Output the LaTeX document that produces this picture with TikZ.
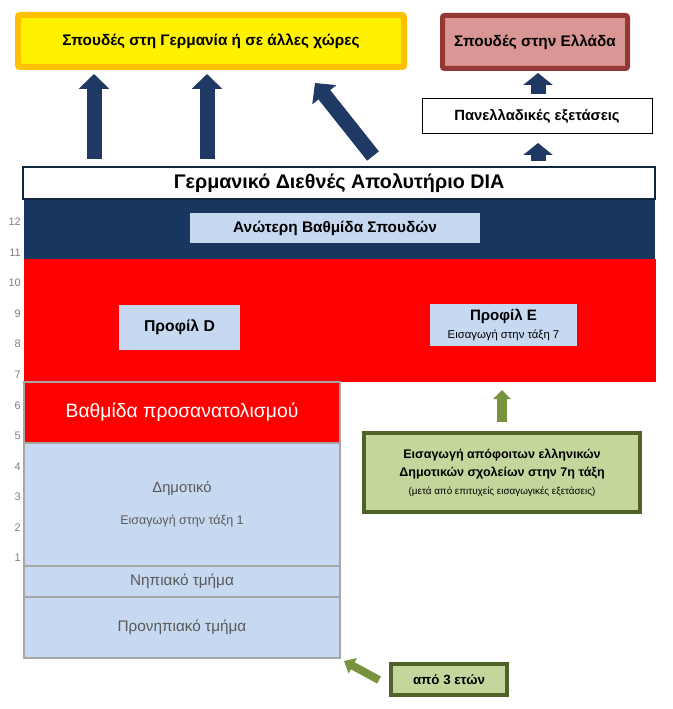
\documentclass[tikz,border=0pt]{standalone}
\usepackage{fontspec}
\setmainfont{Liberation Sans}
\usetikzlibrary{arrows.meta,calc}
\definecolor{navy}{HTML}{17375E}
\definecolor{navyarr}{HTML}{1F3864}
\definecolor{diaborder}{HTML}{0F243E}
\definecolor{lightblue}{HTML}{C6D9F1}
\definecolor{orangeb}{HTML}{FFC000}
\definecolor{greecefill}{HTML}{D99694}
\definecolor{greeceborder}{HTML}{953735}
\definecolor{greenfill}{HTML}{C3D69B}
\definecolor{greenborder}{HTML}{4F6228}
\definecolor{greenarr}{HTML}{77933C}
\definecolor{colgray}{HTML}{A6A6A6}
\definecolor{txtgray}{HTML}{595959}
\definecolor{numgray}{HTML}{7F7F7F}
\newcommand\fsz[1]{\fontsize{#1}{#1}\selectfont}
\begin{document}
\begin{tikzpicture}[x=0.75pt,y=-0.75pt,
  box/.style 2 args={minimum width=#1*0.75pt, minimum height=#2*0.75pt, inner sep=0pt, outer sep=0pt, align=center},
  colbox/.style={draw=colgray, line width=1.9pt, fill=lightblue, text=txtgray},
  greenbox/.style={draw=greenborder, line width=3pt, fill=greenfill},
  bigarrow/.style={navyarr, line width=11.25pt, -{Triangle[width=22.5pt,length=11.25pt]}},
  smallarrow/.style={navyarr, line width=11.25pt, -{Triangle[width=21.75pt,length=9pt]}},
  greenup/.style={greenarr, line width=7.5pt, -{Triangle[width=12.75pt,length=6.75pt]}},
  greendiag/.style={greenarr, line width=6pt, -{Triangle[width=12.75pt,length=7.5pt]}},
  num/.style={anchor=east, inner sep=0pt, text=numgray, font=\fsz{8.2}}
]
\useasboundingbox (0,0) rectangle (673,709);

% top boxes
\node[box={386}{52}, draw=orangeb, line width=4.5pt, fill=yellow, rounded corners=1.5pt, font=\bfseries\fsz{11.5}] (yel) at (211,41) {Σπουδές στη Γερμανία ή σε άλλες χώρες};
\node[box={185}{53}, draw=greeceborder, line width=3.75pt, fill=greecefill, rounded corners=1.5pt, font=\bfseries\fsz{11.5}] (gr) at (535,42) {Σπουδές στην Ελλάδα};
\node[box={230}{35}, draw=black, line width=0.75pt, fill=white, font=\bfseries\fsz{11.1}] (pan) at (537,116.5) {Πανελλαδικές εξετάσεις};

% DIA and bands
\node[box={631}{60}, fill=navy] (navyband) at (339.5,229) {};
\node[box={632}{123}, fill=red] (redband) at (340,320.5) {};
\node[box={632}{32}, draw=diaborder, line width=1.9pt, fill=white, font=\bfseries\fsz{14.8}] (dia) at (339,183) {Γερμανικό Διεθνές Απολυτήριο DIA};
\node[box={290}{30}, fill=lightblue, font=\bfseries\fsz{11.5}] (upper) at (335,228) {Ανώτερη Βαθμίδα Σπουδών};
\node[box={121}{45}, fill=lightblue, font=\bfseries\fsz{11.8}] (profD) at (179.5,327.5) {Προφίλ D};
\node[box={147}{42}, fill=lightblue] (profE) at (503.5,325) {{\bfseries\fsz{11.3}Προφίλ E}\\[1pt]{\fsz{8.5}Εισαγωγή στην τάξη 7}};

% left column
\node[box={316}{61}, colbox, fill=red, text=white, font=\fsz{14.5}] (orient) at (182,412.5) {Βαθμίδα προσανατολισμού};
\node[box={316}{123}, colbox] (dimot) at (182,504.5) {{\fsz{11.1}Δημοτικό}\\[12pt]{\fsz{9.4}Εισαγωγή στην τάξη 1}};
\node[box={316}{31}, colbox, font=\fsz{11.5}] (nip) at (182,581.5) {Νηπιακό τμήμα};
\node[box={316}{61}, colbox, font=\fsz{11.5}] (pronip) at (182,627.5) {Προνηπιακό τμήμα};

% green boxes
\node[box={276}{79}, greenbox] (entry) at (502,472.5) {{\bfseries\fsz{9.4}Εισαγωγή απόφοιτων ελληνικών}\\[2pt]{\bfseries\fsz{9.4}Δημοτικών σχολείων στην 7η τάξη}\\[1pt]{\fsz{7.4}(μετά από επιτυχείς εισαγωγικές εξετάσεις)}};
\node[box={116}{31}, greenbox, font=\bfseries\fsz{10}] (age) at (449,679.5) {από 3 ετών};

% grade numbers
\foreach \n in {1,...,12} {
  \node[num] (g\n) at (21,{222+(12-\n)*30.55}) {\n};
}

% navy arrows
\coordinate (ax1) at (94,0);
\coordinate (ax2) at (207,0);
\coordinate (sx) at (538,0);
\draw[bigarrow] ($(ax1|-dia.north)+(0,-8)$) -- ($(ax1|-yel.south)+(0,7)$);
\draw[bigarrow] ($(ax2|-dia.north)+(0,-8)$) -- ($(ax2|-yel.south)+(0,7)$);
\draw[bigarrow] ($(dia.north)+(34,-11)$) -- ($(yel.south east)+(-89,16)$);
\draw[smallarrow] ($(sx|-pan.north)+(0,-5)$) -- ($(sx|-gr.south)+(0,4.5)$);
\draw[smallarrow] ($(sx|-dia.north)+(0,-6)$) -- ($(sx|-pan.south)+(0,9)$);

% green arrows
\draw[greenup] ($(entry.north)+(0,-11)$) -- ($(entry.north|-redband.south)+(0,8)$);
\draw[greendiag] ($(age.west)+(-12,0.5)$) -- ($(pronip.south east)+(4,3)$);
\end{tikzpicture}
\end{document}
